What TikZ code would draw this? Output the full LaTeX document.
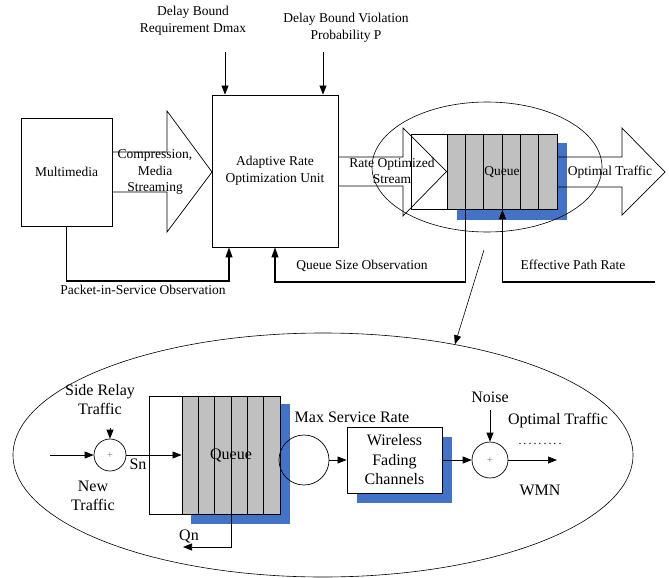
\documentclass[tikz,border=0pt]{standalone}
\usepackage{fontspec}
\setmainfont{LiberationSerif-Regular.ttf}
\usetikzlibrary{arrows.meta,shapes.geometric}

\definecolor{shadowblue}{RGB}{68,114,196}
\definecolor{queuegray}{RGB}{192,192,192}

\begin{document}
\begin{tikzpicture}[
    x=1pt, y=-1pt,
    every node/.style={
      inner sep=0pt, align=center,
      font=\fontsize{13.5}{16.5}\selectfont,
    },
    big/.style={font=\fontsize{16}{19}\selectfont},
    blk/.style={draw, line width=0.9pt},
    cell/.style={draw, line width=0.9pt, fill=queuegray},
    shadow/.style={fill=shadowblue},
    sum/.style={circle, draw, line width=0.7pt, text=gray,
      font=\fontsize{11}{12}\selectfont},
    arr/.style={-{Triangle[length=9pt,width=7pt]}, line width=0.7pt},
    obs/.style={-{Triangle[length=10pt,width=7pt]}, line width=1.3pt},
    fat/.style={draw, line width=0.7pt}
    ]
  \useasboundingbox (0,0) rectangle (669,578);

  % upper part
  \node (dmax) at (193,21) {Delay Bound\\Requirement Dmax};
  \node (pviol) at (346,28) {Delay Bound Violation\\Probability P};

  \draw[fat] (112,152) -- (167,152) -- (167,111) -- (212,172)
    -- (167,232) -- (167,192) -- (112,192);
  \node[blk, minimum width=91, minimum height=108] (mm) at (66.5,172) {Multimedia};
  \node[blk, minimum width=126, minimum height=152] (aro) at (275,171)
    {Adaptive Rate\\Optimization Unit};
  \node (cmp) at (155,172) {Compression,\\Media\\Streaming};

  \coordinate (d1) at (225,52);
  \coordinate (d2) at (323,52);
  \draw[arr] (d1) -- (d1 |- aro.north);
  \draw[arr] (d2) -- (d2 |- aro.north);

  % queue of the upper part
  \fill[shadow] (457,143) rectangle (567,220);
  \node[blk, minimum width=36, minimum height=75] (qin) at (429,171.5) {};
  \foreach \i in {1,...,6}
    \node[cell, minimum width=18.33, minimum height=75] (a\i)
      at ({447+(\i-0.5)*18.33},171.5) {};
  \node (q) at (502,172) {Queue};

  \draw[fat] (aro.east |- 0,157) -- (403,157) -- (403,128) -- (a1.west)
    -- (403,216) -- (403,186) -- (aro.east |- 0,186);
  \node (ros) at (392,171) {Rate Optimized\\Stream};

  \draw[fat] (a6.east |- 0,157) -- (622,157) -- (622,128) -- (665,172)
    -- (622,215) -- (622,187) -- (a6.east |- 0,187);
  \node (opt) at (610,172) {Optimal Traffic};

  \node[ellipse, draw, line width=0.6pt, minimum width=230, minimum height=130]
    (qzoom) at (487,167) {};

  % observations
  \coordinate (p1) at (229,281);
  \draw[obs] (mm.south) |- (p1) -- (p1 |- aro.south);
  \node (pso) at (143,290) {Packet-in-Service Observation};

  \coordinate (q1) at (275,282);
  \draw[obs] (a1.south east) |- (q1) -- (q1 |- aro.south);
  \node (qso) at (362,266) {Queue Size Observation};

  \coordinate (e1) at (655,282);
  \draw[obs] (e1) -| (a3.south east);
  \node (epr) at (573,265) {Effective Path Rate};

  % lower part
  \node[ellipse, draw, line width=0.6pt, minimum width=620, minimum height=244]
    (zoom) at (323,455) {};
  \coordinate (z1) at (484,250);
  \draw[arr, line width=0.6pt] (z1) -- (zoom.40);

  \node[sum, minimum size=32] (s1) at (110,455) {+};
  \coordinate (nt) at (50,455);
  \draw[arr] (nt) -- (s1.west);
  \node[big] (srt) at (100,400) {Side Relay\\Traffic};
  \draw[arr] (s1.north |- 0,428) -- (s1.north);
  \node[big] (ntr) at (93,496) {New\\Traffic};
  \node[big] (sn) at (138,464) {Sn};

  \fill[shadow] (191,404) rectangle (290,524);
  \node[blk, minimum width=33, minimum height=118] (bin) at (165.5,455) {};
  \foreach \i in {1,...,6}
    \node[cell, minimum width=16.33, minimum height=118] (b\i)
      at ({182+(\i-0.5)*16.33},455) {};
  \node[big] (q2) at (231,455) {Queue};
  \draw[arr] (s1.east) -- (b1.west);

  \coordinate (qn) at (183,547);
  \draw[arr] (b3.south east) |- (qn);
  \node[big] (qnl) at (189,536) {Qn};

  \node[circle, draw, line width=0.7pt, minimum size=50] (ms) at (304,460) {};
  \node[big] (msr) at (352,417) {Max Service Rate};

  \fill[shadow] (357,437) rectangle (452,503);
  \node[blk, fill=white, minimum width=95, minimum height=66,
    font=\fontsize{16}{19.5}\selectfont] (wfc) at (394.5,460)
    {Wireless\\Fading\\Channels};
  \draw[arr] (ms.east) -- (wfc.west);

  \node[sum, minimum size=36] (s2) at (490,460) {+};
  \draw[arr] (wfc.east) -- (s2.west);
  \node[big] (noise) at (490,397) {Noise};
  \draw[arr] (s2.north |- 0,410) -- (s2.north);

  \coordinate (out) at (557,460);
  \draw[arr] (s2.east) -- (out);
  \node[big] (opt2) at (558,421) {Optimal Traffic};
  \node[font=\fontsize{12}{12}\selectfont] (dots) at (540,444)
    {.\,.\,.\,.\,.\,.\,.\,.\,.};
  \node[big] (wmn) at (540,490) {WMN};
\end{tikzpicture}
\end{document}
